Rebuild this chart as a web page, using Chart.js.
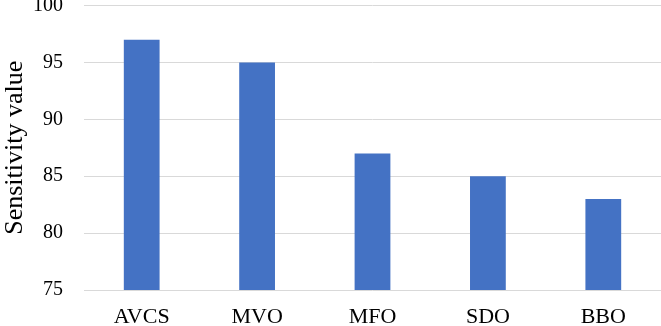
<!DOCTYPE html>
<html><head><meta charset="utf-8">
<script src="https://cdn.jsdelivr.net/npm/chart.js@4"></script>
<style>html,body{margin:0;padding:0;background:#fff}#w{width:661px;height:326px}</style>
</head><body><div id="w"><canvas id="c"></canvas></div>
<script>
const categories = ["AVCS", "MVO", "MFO", "SDO", "BBO"];
const sensitivity = [97, 95, 87, 85, 83];
const yTicks = [75, 80, 85, 90, 95, 100];
const yTitle = "Sensitivity value";

const serif = "'Liberation Serif','Times New Roman',serif";
new Chart(document.getElementById('c'), {
  type: 'bar',
  data: { labels: categories, datasets: [{ data: sensitivity, backgroundColor: '#4472C4', categoryPercentage: 1, barPercentage: 0.31 }] },
  options: {
    responsive: true, maintainAspectRatio: false, animation: false,
    layout: { padding: { top: 5.5, right: 0, left: 0, bottom: 0 } },
    plugins: { legend: { display: false }, tooltip: { enabled: false } },
    scales: {
      x: {
        grid: { display: false, drawTicks: false },
        border: { display: false },
        ticks: { color: '#000', font: { family: serif, size: 22 }, padding: 14 },
        afterFit: s => { s.height = 36; s.paddingLeft = 0; s.paddingRight = 0; }
      },
      y: {
        min: 75, max: 100,
        afterBuildTicks: s => { s.ticks = yTicks.map(v => ({ value: v })); },
        grid: { color: '#D9D9D9', lineWidth: 1, drawTicks: false },
        border: { display: false },
        ticks: { color: '#000', font: { family: serif, size: 20 }, padding: 21 },
        title: { display: true, text: yTitle, color: '#000', font: { family: serif, size: 26 }, padding: 0 },
        afterFit: s => { s.width = 84; s.paddingTop = 0; s.paddingBottom = 0; }
      }
    }
  }
});
</script></body></html>
